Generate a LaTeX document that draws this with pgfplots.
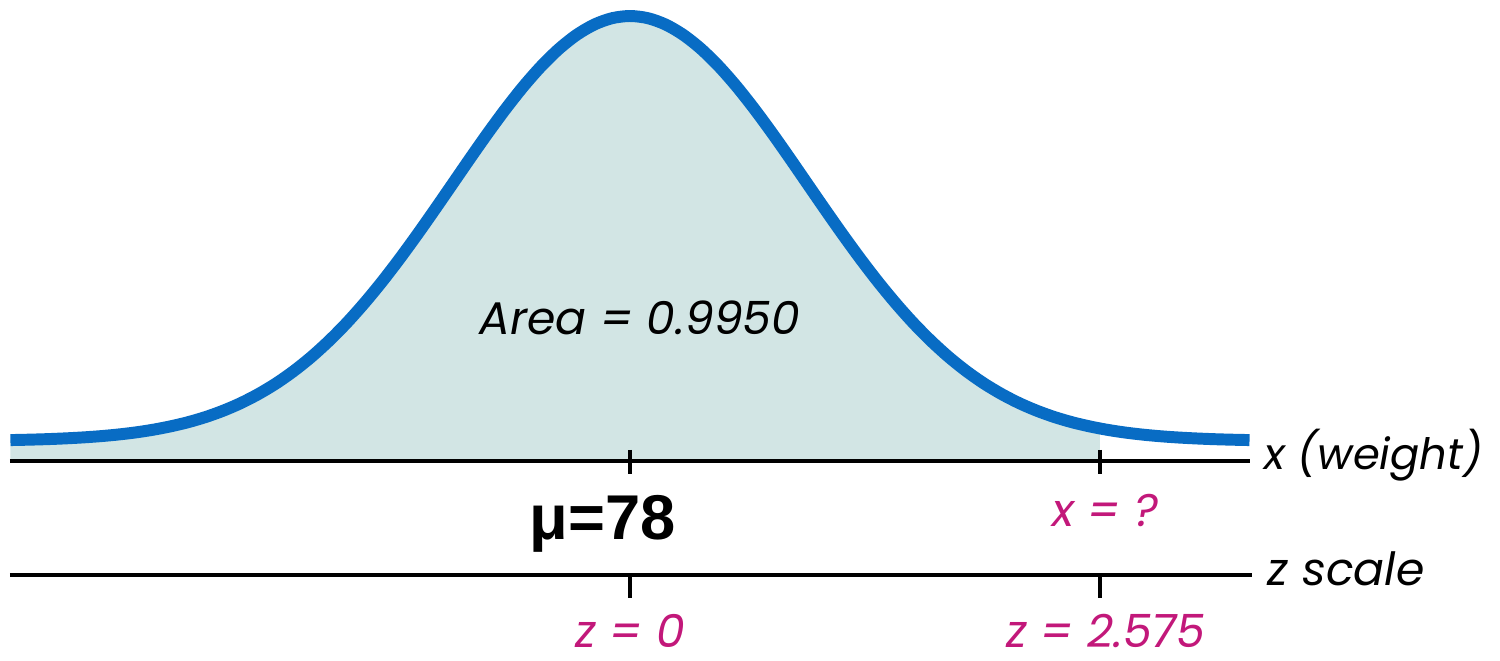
\documentclass[border=0pt]{standalone}
\usepackage{pgfplots}
\pgfplotsset{compat=1.18}
\usepackage{fontspec}
\setmainfont{Liberation Sans}
\newfontfamily\hand{Poppins}
\definecolor{curveblue}{RGB}{8,108,196}
\definecolor{areafill}{RGB}{210,229,228}
\definecolor{pinklab}{RGB}{194,24,122}
\begin{document}
\begin{tikzpicture}
\begin{axis}[
  scale only axis, width=15cm, height=6.61cm,
  xmin=-3.559, xmax=4.915, ymin=-0.4706, ymax=1.0847,
  hide axis, clip=false,
]
% shaded area up to the x = ? tick
\addplot[fill=areafill, draw=none] coordinates {
(-3.5,0) (-3.5,0.0492) (-3.4,0.0501) (-3.3,0.0513) (-3.2,0.0530) (-3.1,0.0552) (-3.0,0.0581)
(-2.9,0.0619) (-2.8,0.0668) (-2.7,0.0731) (-2.6,0.0811) (-2.5,0.0909) (-2.4,0.1031)
(-2.3,0.1180) (-2.2,0.1359) (-2.1,0.1573) (-2.0,0.1823) (-1.9,0.2115) (-1.8,0.2449)
(-1.7,0.2828) (-1.6,0.3250) (-1.5,0.3717) (-1.4,0.4223) (-1.3,0.4766) (-1.2,0.5338)
(-1.1,0.5931) (-1.0,0.6535) (-0.9,0.7140) (-0.8,0.7732) (-0.7,0.8297) (-0.6,0.8823)
(-0.5,0.9295) (-0.4,0.9701) (-0.3,1.0030) (-0.2,1.0272) (-0.1,1.0420) (0,1.0470)
(0.1,1.0420) (0.2,1.0272) (0.3,1.0030) (0.4,0.9701) (0.5,0.9295) (0.6,0.8823)
(0.7,0.8297) (0.8,0.7732) (0.9,0.7140) (1.0,0.6535) (1.1,0.5931) (1.2,0.5338)
(1.3,0.4766) (1.4,0.4223) (1.5,0.3717) (1.6,0.3250) (1.7,0.2828) (1.8,0.2449)
(1.9,0.2115) (2.0,0.1823) (2.1,0.1573) (2.2,0.1359) (2.3,0.1180) (2.4,0.1031)
(2.5,0.0909) (2.6,0.0811) (2.655,0.0765) (2.655,0)
} -- cycle;
% horizontal lines and ticks
\addplot[black, line width=0.9pt] coordinates {(-3.503,0) (3.503,0)};
\addplot[black, line width=0.9pt] coordinates {(-3.503,-0.2682) (3.515,-0.2682)};
\addplot[black, line width=0.9pt] coordinates {(0,0.0259) (0,-0.0306)};
\addplot[black, line width=0.9pt] coordinates {(2.655,0.0259) (2.655,-0.0306)};
\addplot[black, line width=0.9pt] coordinates {(0,-0.2682) (0,-0.3224)};
\addplot[black, line width=0.9pt] coordinates {(2.655,-0.2682) (2.655,-0.3224)};
% normal curve
\addplot[curveblue, line width=3.4pt, smooth, line cap=butt] coordinates {
(-3.5,0.0492) (-3.4,0.0501) (-3.3,0.0513) (-3.2,0.0530) (-3.1,0.0552) (-3.0,0.0581)
(-2.9,0.0619) (-2.8,0.0668) (-2.7,0.0731) (-2.6,0.0811) (-2.5,0.0909) (-2.4,0.1031)
(-2.3,0.1180) (-2.2,0.1359) (-2.1,0.1573) (-2.0,0.1823) (-1.9,0.2115) (-1.8,0.2449)
(-1.7,0.2828) (-1.6,0.3250) (-1.5,0.3717) (-1.4,0.4223) (-1.3,0.4766) (-1.2,0.5338)
(-1.1,0.5931) (-1.0,0.6535) (-0.9,0.7140) (-0.8,0.7732) (-0.7,0.8297) (-0.6,0.8823)
(-0.5,0.9295) (-0.4,0.9701) (-0.3,1.0030) (-0.2,1.0272) (-0.1,1.0420) (0,1.0470)
(0.1,1.0420) (0.2,1.0272) (0.3,1.0030) (0.4,0.9701) (0.5,0.9295) (0.6,0.8823)
(0.7,0.8297) (0.8,0.7732) (0.9,0.7140) (1.0,0.6535) (1.1,0.5931) (1.2,0.5338)
(1.3,0.4766) (1.4,0.4223) (1.5,0.3717) (1.6,0.3250) (1.7,0.2828) (1.8,0.2449)
(1.9,0.2115) (2.0,0.1823) (2.1,0.1573) (2.2,0.1359) (2.3,0.1180) (2.4,0.1031)
(2.5,0.0909) (2.6,0.0811) (2.7,0.0731) (2.8,0.0668) (2.9,0.0619) (3.0,0.0581)
(3.1,0.0552) (3.2,0.0530) (3.3,0.0513) (3.4,0.0501) (3.5,0.0492)
};
% labels
\node[anchor=base, inner sep=0pt, font=\hand\itshape\fontsize{13}{15}\selectfont] at (axis cs:0.056,0.2965) {Area = 0.9950};
\node[anchor=base west, inner sep=0pt, font=\hand\itshape\fontsize{12.3}{14}\selectfont] at (axis cs:3.58,-0.0212) {x (weight)};
\node[anchor=base west, inner sep=0pt, font=\hand\itshape\fontsize{13}{15}\selectfont] at (axis cs:3.6,-0.2941) {z scale};
\node[anchor=base, inner sep=0pt, text=pinklab, font=\hand\itshape\fontsize{13}{15}\selectfont] at (axis cs:2.684,-0.1553) {x = ?};
\node[anchor=base, inner sep=0pt, text=pinklab, font=\hand\itshape\fontsize{13}{15}\selectfont] at (axis cs:2.689,-0.4400) {z = 2.575};
\node[anchor=base, inner sep=0pt, text=pinklab, font=\hand\itshape\fontsize{13}{15}\selectfont] at (axis cs:0,-0.4400) {z = 0};
\node[anchor=base, inner sep=0pt, font=\bfseries\fontsize{18}{20}\selectfont] at (axis cs:-0.153,-0.1859) {μ=78};
\end{axis}
\pgfresetboundingbox
\useasboundingbox (current axis.south west) rectangle (current axis.north east);
\end{tikzpicture}
\end{document}
